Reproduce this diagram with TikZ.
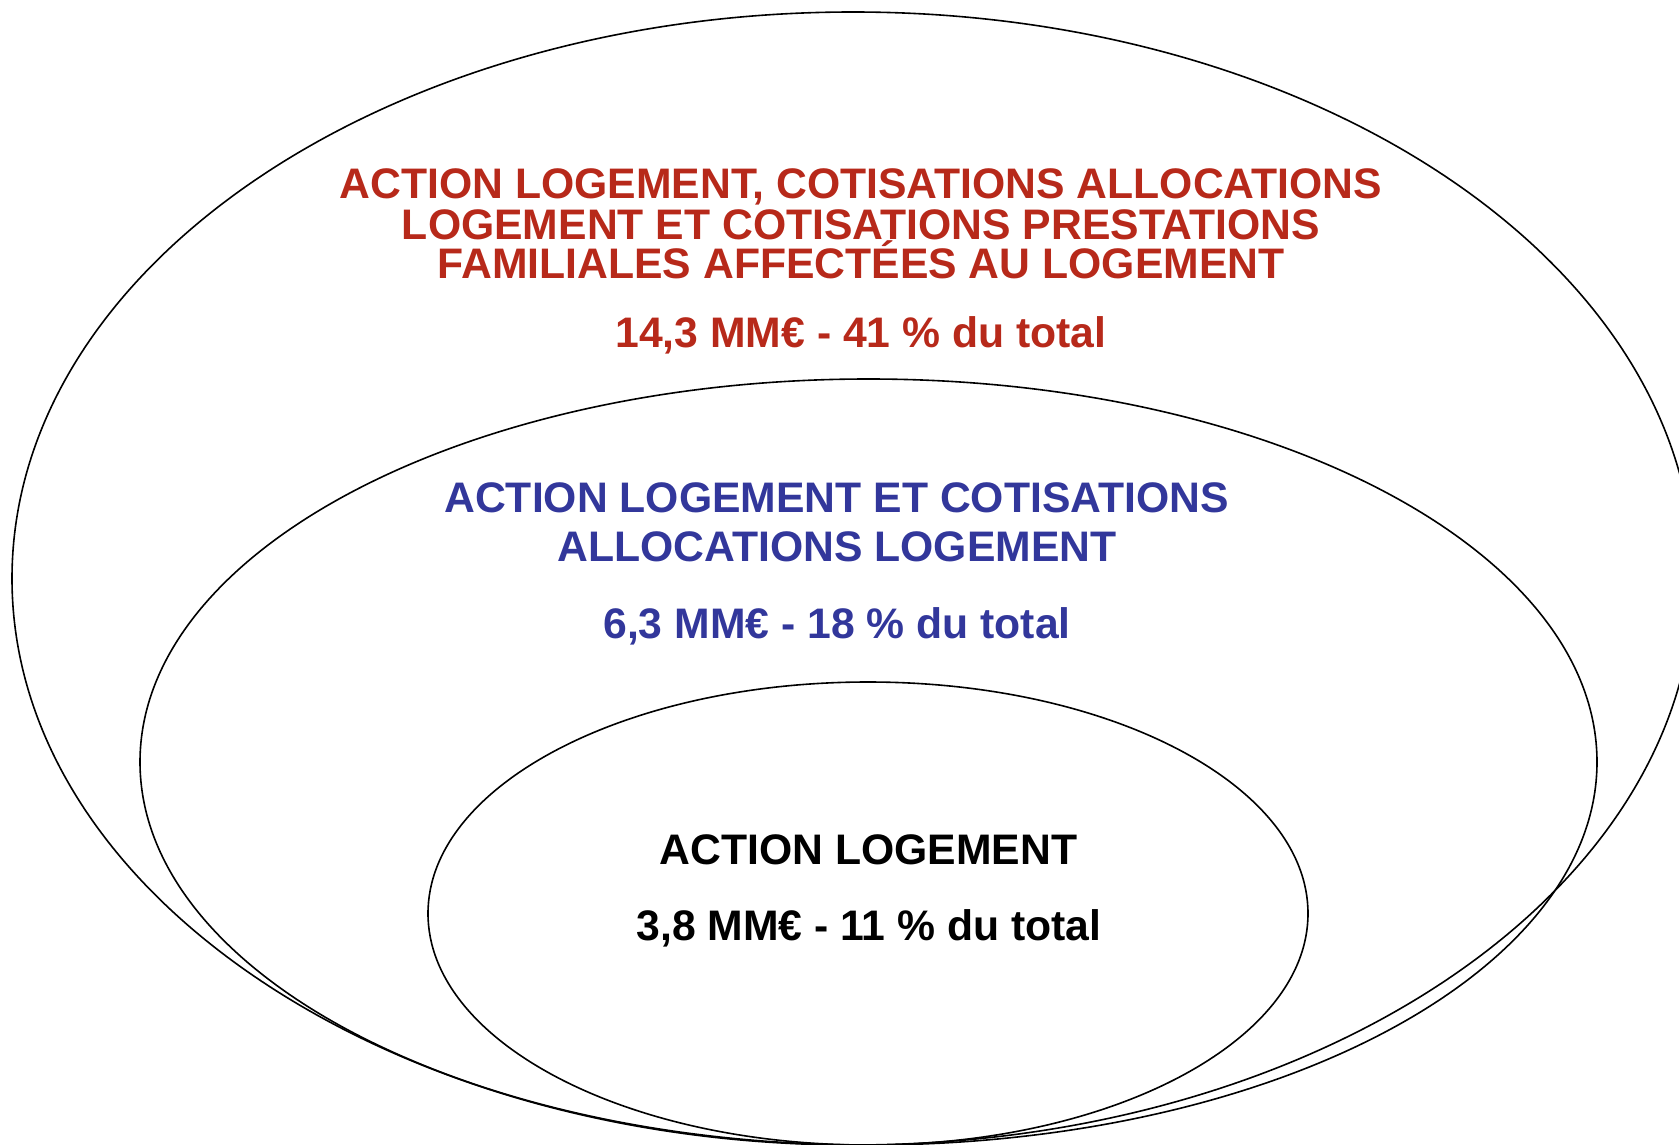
\documentclass[tikz,border=0pt]{standalone}
\usepackage{fontspec}
\setmainfont{Liberation Sans}
\usetikzlibrary{shapes.geometric}
\definecolor{redtxt}{RGB}{183,41,26}
\definecolor{bluetxt}{RGB}{50,55,155}
\tikzset{
  ring/.style={draw=black, line width=1.6pt, ellipse, inner sep=0pt, outer sep=0pt},
  lbl/.style={anchor=base, inner sep=0pt, font=\fontsize{42.7}{42.7}\selectfont\bfseries},
}
\begin{document}
\begin{tikzpicture}[x=1pt,y=-1pt]
\useasboundingbox (0,0) rectangle (1679,1145);
\clip (0,0) rectangle (1679,1145);
\node[ring, minimum width=1682pt, minimum height=1133pt] (outer) at (853,578.5) {};
\node[ring, minimum width=1457pt, minimum height=766pt] (middle) at (868.5,762) {};
\node[ring, minimum width=880pt, minimum height=463pt] (inner) at (868,913.5) {};
\node[lbl, text=redtxt] (r1) at (861,198.3) {ACTION LOGEMENT, COTISATIONS ALLOCATIONS};
\node[lbl, text=redtxt] (r2) at (861,239.3) {LOGEMENT ET COTISATIONS PRESTATIONS};
\node[lbl, text=redtxt] (r3) at (861,278.3) {FAMILIALES AFFECTÉES AU LOGEMENT};
\node[lbl, text=redtxt] (r4) at (861,347) {14,3 MM€ - 41 \% du total};
\node[lbl, text=bluetxt] (b1) at (836.5,512.7) {ACTION LOGEMENT ET COTISATIONS};
\node[lbl, text=bluetxt] (b2) at (837,561.7) {ALLOCATIONS LOGEMENT};
\node[lbl, text=bluetxt] (b3) at (837,638.3) {6,3 MM€ - 18 \% du total};
\node[lbl, text=black] (k1) at (868.5,864) {ACTION LOGEMENT};
\node[lbl, text=black] (k2) at (869,940) {3,8 MM€ - 11 \% du total};
\end{tikzpicture}
\end{document}
